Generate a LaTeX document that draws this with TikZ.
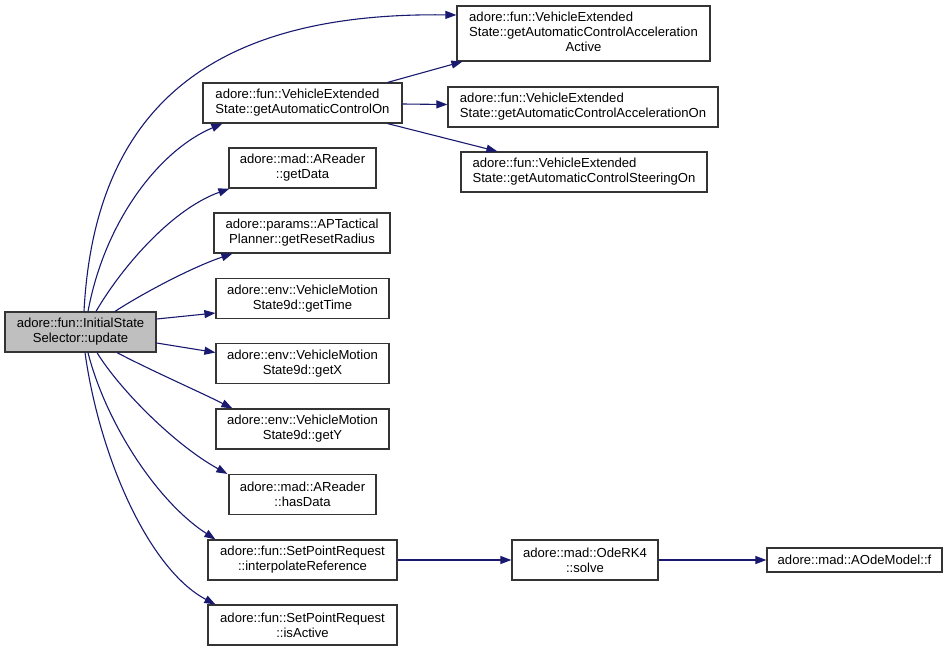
\documentclass[tikz,border=0pt]{standalone}
\usepackage{fontspec}
\setmainfont{Liberation Sans}
\usetikzlibrary{arrows.meta}
\definecolor{edgecol}{RGB}{25,25,112}
\definecolor{boxcol}{RGB}{52,52,52}
\definecolor{maincol}{RGB}{191,191,191}
\begin{document}
\begin{tikzpicture}[x=1pt,y=-1pt,
  box/.style={draw=boxcol, line width=1.2pt, fill=white, inner sep=0pt, align=center,
    font=\fontsize{13.1}{15}\selectfont},
  lbox/.style={box, align=left},
  edge/.style={draw=edgecol, line width=1.1pt, -{Triangle[length=11pt,width=8pt]}}]
\useasboundingbox (0,0) rectangle (947,651);
% nodes
\node[box, fill=maincol, minimum width=151pt, minimum height=40pt] (main) at (80.5,332) {adore::fun::InitialState\\Selector::update};
\node[box, minimum width=253pt, minimum height=55pt] (aca) at (583.5,33.5)
  {\begin{tabular}{@{}l@{}}adore::fun::VehicleExtended\\State::getAutomaticControlAcceleration\\\multicolumn{1}{@{}c@{}}{Active}\end{tabular}};
\node[lbox, minimum width=199pt, minimum height=40pt] (aco) at (302.5,103) {adore::fun::VehicleExtended\\State::getAutomaticControlOn};
\node[lbox, minimum width=270pt, minimum height=40pt] (aon) at (583,107) {adore::fun::VehicleExtended\\State::getAutomaticControlAccelerationOn};
\node[lbox, minimum width=246pt, minimum height=40pt] (steer) at (584,172) {adore::fun::VehicleExtended\\State::getAutomaticControlSteeringOn};
\node[box, minimum width=147pt, minimum height=40pt] (gd) at (302.5,168) {adore::mad::AReader\\::getData};
\node[box, minimum width=176pt, minimum height=40pt] (grr) at (302,233) {adore::params::APTactical\\Planner::getResetRadius};
\node[box, minimum width=173pt, minimum height=40pt] (gt) at (302.5,298.5) {adore::env::VehicleMotion\\State9d::getTime};
\node[box, minimum width=173pt, minimum height=40pt] (gx) at (302.5,363.5) {adore::env::VehicleMotion\\State9d::getX};
\node[box, minimum width=173pt, minimum height=40pt] (gy) at (302.5,429) {adore::env::VehicleMotion\\State9d::getY};
\node[box, minimum width=147pt, minimum height=40pt] (hd) at (302.5,494.5) {adore::mad::AReader\\::hasData};
\node[box, minimum width=189pt, minimum height=40pt] (ir) at (302.5,560) {adore::fun::SetPointRequest\\::interpolateReference};
\node[box, minimum width=189pt, minimum height=40pt] (ia) at (302.5,625) {adore::fun::SetPointRequest\\::isActive};
\node[box, minimum width=146pt, minimum height=40pt] (solve) at (585,560) {adore::mad::OdeRK4\\::solve};
\node[box, minimum width=175pt, minimum height=24pt] (f) at (854.5,560) {adore::mad::AOdeModel::f};
% edges from update
\draw[edge] ([xshift=3.5pt]main.north) .. controls (95,100) and (220,12) .. ([yshift=18.5pt]aca.west);
\draw[edge] ([xshift=7.5pt]main.north) .. controls (105,220) and (160,150) .. ([xshift=20pt]aco.south west);
\draw[edge] ([xshift=15.5pt]main.north) .. controls (120,270) and (170,210) .. ([xshift=1pt]gd.south west);
\draw[edge] ([xshift=34.5pt]main.north) .. controls (140,295) and (190,268) .. ([xshift=19pt]grr.south west);
\draw[edge] ([yshift=13pt]main.east) -- ([yshift=-14.5pt]gt.west);
\draw[edge] ([yshift=-11pt]main.east) -- ([yshift=11pt]gx.west);
\draw[edge] ([xshift=36.5pt]main.south) .. controls (150,370) and (200,392) .. ([xshift=17pt]gy.north west);
\draw[edge] ([xshift=16.5pt]main.south) .. controls (120,390) and (175,445) .. ([xshift=-1pt]hd.north west);
\draw[edge] ([xshift=7.5pt]main.south) .. controls (105,420) and (155,500) .. ([xshift=8pt]ir.north west);
\draw[edge] ([xshift=4.5pt]main.south) .. controls (100,460) and (150,570) .. ([xshift=8pt]ia.north west);
% edges from getAutomaticControlOn
\draw[edge] ([xshift=-15pt]aco.north east) -- ([xshift=6pt]aca.south west);
\draw[edge] ([yshift=-1pt]aco.east) -- ([yshift=2.5pt]aon.west);
\draw[edge] ([xshift=-15pt]aco.south east) -- ([xshift=37pt]steer.north west);
% chain
\draw[edge] (ir.east) -- (solve.west);
\draw[edge] (solve.east) -- (f.west);
\end{tikzpicture}
\end{document}
